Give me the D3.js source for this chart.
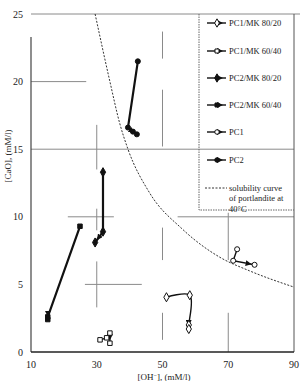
<!DOCTYPE html>
<html>
<head>
<meta charset="utf-8">
<script src="https://cdn.jsdelivr.net/npm/d3@7"></script>
<style>
  body { margin: 0; background: #fff; }
  svg { display: block; font-family: "Liberation Serif", "Times New Roman", serif; }
  .tick-label { font-size: 10px; fill: #222; }
  .axis-title { font-size: 9px; fill: #222; }
  .legend text { font-size: 8.5px; fill: #222; }
</style>
</head>
<body>
<script>
// series order as in legend
var seriesNames = ["PC1/MK 80/20", "PC1/MK 60/40", "PC2/MK 80/20", "PC2/MK 60/40", "PC1", "PC2"];

// [OH-] (mM/l) and [CaO] (mM/l) for each series, in time order
var pc1mk8020X = [51.2, 58.3, 58.0, 58.0];
var pc1mk8020Y = [4.05, 4.2, 2.0, 1.7];
var pc1mk6040X = [31.0, 33.0, 34.0, 34.0];
var pc1mk6040Y = [0.9, 1.05, 1.4, 0.65];
var pc2mk8020X = [31.9, 31.9, 29.5];
var pc2mk8020Y = [13.3, 8.9, 8.1];
var pc2mk6040X = [24.9, 15.1, 15.1];
var pc2mk6040Y = [9.3, 2.6, 2.4];
var pc1X = [72.7, 71.5, 78.0];
var pc1Y = [7.6, 6.75, 6.45];
var pc2X = [42.5, 39.5, 41.0, 42.2];
var pc2Y = [21.5, 16.6, 16.3, 16.1];

// solubility curve of portlandite at 40°C
var curveX = [29.5, 34, 37, 39.5, 46, 56, 67.5, 76.5, 90];
var curveY = [25, 20, 16.9, 15, 11.8, 9.1, 7.0, 6.0, 4.8];

var xTicks = [10, 30, 50, 70, 90];
var yTicks = [0, 5, 10, 15, 20, 25];

// broken grid lines of the scanned figure (value ranges)
var hGridY  = [25, 20, 15, 10, 10, 5];
var hGridX0 = [10, 10, 10, 21.2, 54.6, 26.4];
var hGridX1 = [92, 26.8, 90, 35.2, 90, 43.7];
var vGridX  = [30, 30, 30, 50, 50, 50, 50, 70, 70];
var vGridY0 = [13.5, 9.0, 3.3, 21.7, 15.2, 6.8, 0.9, 6.8, 0];
var vGridY1 = [16.8, 10.6, 6.7, 23.7, 19.4, 9.2, 2.9, 10.3, 2.9];

var seriesX = [pc1mk8020X, pc1mk6040X, pc2mk8020X, pc2mk6040X, pc1X, pc2X];
var seriesY = [pc1mk8020Y, pc1mk6040Y, pc2mk8020Y, pc2mk6040Y, pc1Y, pc2Y];
var symbolTypes = [d3.symbolDiamond, d3.symbolSquare, d3.symbolDiamond, d3.symbolSquare, d3.symbolCircle, d3.symbolCircle];
var symbolFilled = [false, false, true, true, false, true];

var width = 300, height = 381;
var x = d3.scaleLinear().domain([10, 90]).range([31, 294]);
var y = d3.scaleLinear().domain([0, 25]).range([352, 14]);

var svg = d3.select("body").append("svg")
    .attr("width", width)
    .attr("height", height);

svg.append("defs").append("marker")
    .attr("id", "arrow")
    .attr("viewBox", "0 0 10 10")
    .attr("refX", 15)
    .attr("refY", 5)
    .attr("markerUnits", "userSpaceOnUse")
    .attr("markerWidth", 6)
    .attr("markerHeight", 6)
    .attr("orient", "auto")
  .append("path")
    .attr("d", "M0,0L10,5L0,10z")
    .attr("fill", "#111");

// grid
svg.append("g").selectAll("line.h")
    .data(hGridY)
  .enter().append("line")
    .attr("x1", function (d, i) { return x(hGridX0[i]); })
    .attr("x2", function (d, i) { return x(hGridX1[i]); })
    .attr("y1", function (d) { return y(d); })
    .attr("y2", function (d) { return y(d); })
    .attr("stroke", "#8a8a8a")
    .attr("stroke-width", 1);

svg.append("g").selectAll("line.v")
    .data(vGridX)
  .enter().append("line")
    .attr("x1", function (d) { return x(d); })
    .attr("x2", function (d) { return x(d); })
    .attr("y1", function (d, i) { return y(vGridY0[i]); })
    .attr("y2", function (d, i) { return y(vGridY1[i]); })
    .attr("stroke", "#8a8a8a")
    .attr("stroke-width", 1);

// right border
svg.append("line")
    .attr("x1", x(90)).attr("x2", x(90))
    .attr("y1", y(25)).attr("y2", y(0))
    .attr("stroke", "#555").attr("stroke-width", 1);

// axes
svg.append("line")
    .attr("x1", x(10)).attr("x2", x(10))
    .attr("y1", y(23.3)).attr("y2", y(0))
    .attr("stroke", "#444").attr("stroke-width", 1.2);
svg.append("line")
    .attr("x1", x(10)).attr("x2", x(90))
    .attr("y1", y(0)).attr("y2", y(0))
    .attr("stroke", "#222").attr("stroke-width", 1.5);

svg.append("g").selectAll("text")
    .data(yTicks)
  .enter().append("text")
    .attr("class", "tick-label")
    .attr("x", 23)
    .attr("y", function (d) { return y(d); })
    .attr("dy", "0.35em")
    .attr("text-anchor", "end")
    .text(function (d) { return d; });

svg.append("g").selectAll("text")
    .data(xTicks)
  .enter().append("text")
    .attr("class", "tick-label")
    .attr("x", function (d) { return x(d); })
    .attr("y", 368)
    .attr("text-anchor", "middle")
    .text(function (d) { return d; });

svg.append("text")
    .attr("class", "axis-title")
    .attr("x", 164)
    .attr("y", 380)
    .attr("text-anchor", "middle")
    .html("[OH<tspan dy='-3' font-size='6'>−</tspan><tspan dy='3'>], (mM/l)</tspan>");

svg.append("text")
    .attr("class", "axis-title")
    .attr("transform", "translate(11,156) rotate(-90)")
    .attr("text-anchor", "middle")
    .text("[CaO], (mM/l)");

// solubility curve
var curveLine = d3.line()
    .x(function (d, i) { return x(curveX[i]); })
    .y(function (d, i) { return y(curveY[i]); })
    .curve(d3.curveMonotoneX);

svg.append("path")
    .attr("d", curveLine(curveX))
    .attr("fill", "none")
    .attr("stroke", "#333")
    .attr("stroke-width", 1)
    .attr("stroke-dasharray", "2,1.5");

// series (only the first one is drawn as a bent curve in the original)
seriesNames.forEach(function (name, s) {
    var pts = seriesX[s].map(function (v, i) { return [x(v), y(seriesY[s][i])]; });
    var line = d3.line().curve(s === 0 ? d3.curveCatmullRom.alpha(0.5) : d3.curveLinear);
    var g = svg.append("g");
    g.append("path")
        .attr("d", line(pts))
        .attr("fill", "none")
        .attr("stroke", "#111")
        .attr("stroke-width", symbolFilled[s] ? 2.2 : 1.4)
        .attr("marker-end", "url(#arrow)");
    g.selectAll("path.pt")
        .data(pts)
      .enter().append("path")
        .attr("transform", function (d) { return "translate(" + d[0] + "," + d[1] + ")"; })
        .attr("d", d3.symbol().type(symbolTypes[s]).size(symbolTypes[s] === d3.symbolDiamond ? 24 : 20))
        .attr("fill", symbolFilled[s] ? "#111" : "#fff")
        .attr("stroke", "#111")
        .attr("stroke-width", 1);
});

// legend
var legend = svg.append("g").attr("class", "legend");

legend.append("path")
    .attr("d", "M199," + y(25) + "V210H" + x(90))
    .attr("fill", "none")
    .attr("stroke", "#666")
    .attr("stroke-width", 1)
    .attr("stroke-dasharray", "1.5,1");

var legendY = [23, 51, 78, 105, 132, 160];

seriesNames.forEach(function (name, s) {
    var ly = legendY[s];
    legend.append("line")
        .attr("x1", 207).attr("x2", 226)
        .attr("y1", ly).attr("y2", ly)
        .attr("stroke", "#111")
        .attr("stroke-width", 1.4)
        .attr("marker-end", "url(#arrow)");
    legend.append("path")
        .attr("transform", "translate(217," + ly + ")")
        .attr("d", d3.symbol().type(symbolTypes[s]).size(symbolTypes[s] === d3.symbolDiamond ? 20 : 16))
        .attr("fill", symbolFilled[s] ? "#111" : "#fff")
        .attr("stroke", "#111")
        .attr("stroke-width", 1);
    legend.append("text")
        .attr("x", 229)
        .attr("y", ly)
        .attr("dy", "0.35em")
        .text(name);
});

legend.append("line")
    .attr("x1", 205).attr("x2", 227)
    .attr("y1", 188).attr("y2", 188)
    .attr("stroke", "#333")
    .attr("stroke-dasharray", "2,1.5");

var curveText = ["solubility curve", "of portlandite at", "40°C"];
legend.selectAll("text.c")
    .data(curveText)
  .enter().append("text")
    .attr("x", 229)
    .attr("y", function (d, i) { return 188 + i * 10.5; })
    .attr("dy", "0.35em")
    .text(function (d) { return d; });
</script>
</body>
</html>
